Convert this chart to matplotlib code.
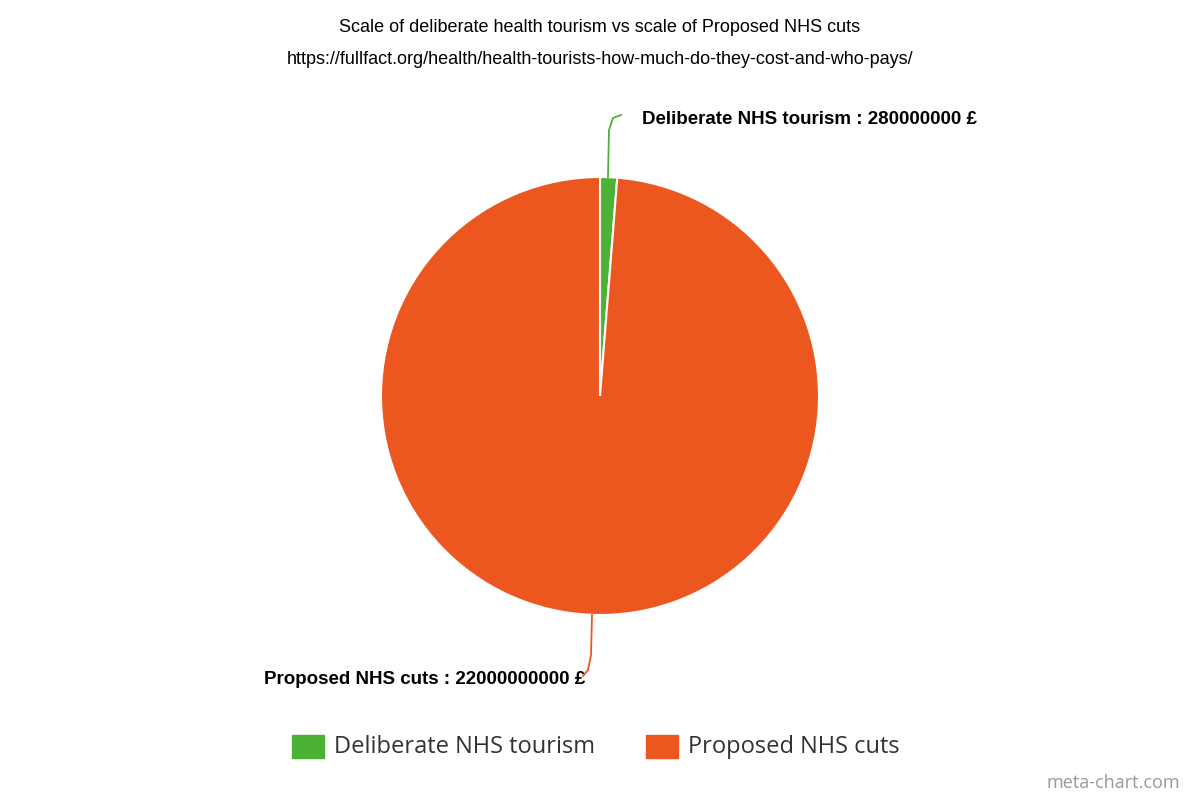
import matplotlib
matplotlib.use("Agg")
import matplotlib.pyplot as plt
from matplotlib.patches import Rectangle

categories = ["Deliberate NHS tourism", "Proposed NHS cuts"]
values = [280000000, 22000000000]
colors = ["#4cb236", "#eb571f"]

fig = plt.figure(figsize=(12, 8), dpi=100)
ax = fig.add_axes([0, 0, 1, 1])
ax.set_xlim(0, 1200)
ax.set_ylim(0, 800)
ax.set_aspect("equal")
ax.axis("off")

# pie in pixel coordinates (y measured from bottom)
ax.pie(values, colors=colors, startangle=90, counterclock=False,
       center=(600, 404), radius=219, frame=True,
       wedgeprops=dict(edgecolor="white", linewidth=1.5))
ax.set_xlim(0, 1200)
ax.set_ylim(0, 800)
ax.axis("off")

fig.text(0.5, 1 - 27 / 800, "Scale of deliberate health tourism vs scale of Proposed NHS cuts",
         ha="center", va="center", fontsize=13, family="Liberation Sans")
fig.text(0.5, 1 - 59 / 800, "https://fullfact.org/health/health-tourists-how-much-do-they-cost-and-who-pays/",
         ha="center", va="center", fontsize=13, family="Liberation Sans")

# connectors and labels
ax.plot([608, 609, 613, 621], [800 - 177, 800 - 130, 800 - 118, 800 - 115], color=colors[0], lw=1.3)
ax.text(642, 800 - 119, f"Deliberate NHS tourism : {values[0]} £", ha="left", va="center",
        fontsize=13.5, fontweight="bold", family="Liberation Sans")
ax.plot([592, 591, 588, 583], [800 - 615, 800 - 655, 800 - 670, 800 - 676], color=colors[1], lw=1.3)
ax.text(585, 800 - 679, f"Proposed NHS cuts : {values[1]} £", ha="right", va="center",
        fontsize=13.5, fontweight="bold", family="Liberation Sans")

# legend
lx = [292, 646]
for x, c, lab in zip(lx, colors, categories):
    ax.add_patch(Rectangle((x, 800 - 758), 32, 23, color=c))
    ax.text(x + 42, 800 - 747, lab, ha="left", va="center", fontsize=17,
            color="#333333", family="Open Sans")

fig.text(1 - 20 / 1200, 1 - 783 / 800, "meta-chart.com", ha="right", va="center",
         fontsize=13, color="#999999", family="Open Sans")

fig.savefig("out.png", dpi=100)
